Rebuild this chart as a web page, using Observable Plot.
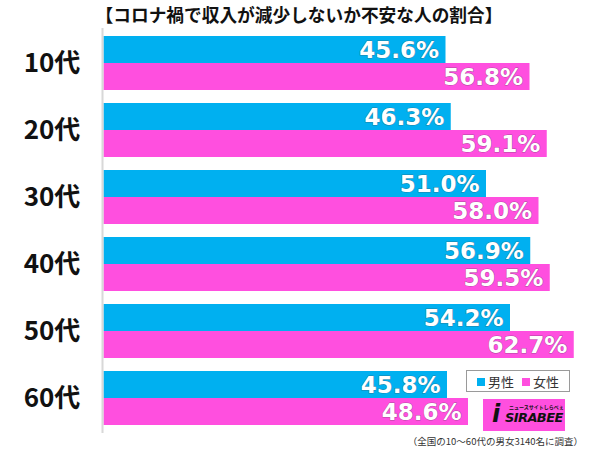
<!DOCTYPE html>
<html>
<head>
<meta charset="utf-8">
<script src="https://cdn.jsdelivr.net/npm/d3@7"></script>
<script src="https://cdn.jsdelivr.net/npm/@observablehq/plot@0.6"></script>
<style>
  html, body { margin: 0; padding: 0; background: #fff; }
  #wrap { position: relative; width: 600px; height: 449px; overflow: hidden; font-family: "Noto Sans CJK JP", sans-serif; }
  #wrap svg { position: absolute; left: 0; top: 0; }
  .title { position: absolute; left: -1px; top: 3px; width: 600px; text-align: center; font-size: 17.7px; line-height: 22px; font-weight: bold; color: #111; white-space: nowrap; }
  .legend { position: absolute; left: 466px; top: 370px; width: 102px; height: 20px; border: 1px solid #9a9a9a; background: #fff; display: flex; align-items: center; justify-content: center; gap: 8px; font-size: 13px; color: #333; white-space: nowrap; }
  .legend span.sw { display: inline-block; width: 8px; height: 8px; margin-right: 3px; vertical-align: 1px; }
  .logo { position: absolute; left: 483px; top: 399px; width: 82px; height: 32px; background: #ff4fdf; color: #111; white-space: nowrap; }
  .logo .i { position: absolute; left: 9px; top: 1px; font-family: "DejaVu Sans", sans-serif; font-size: 24px; line-height: 28px; font-weight: bold; font-style: italic; }
  .logo .small { position: absolute; left: 26px; top: 5px; font-size: 5px; line-height: 6px; font-weight: bold; }
  .logo .big { position: absolute; left: 22px; top: 11px; font-family: "DejaVu Sans", sans-serif; font-size: 13px; line-height: 16px; font-weight: bold; font-style: italic; letter-spacing: -0.6px; }
  .caption { position: absolute; right: 17px; top: 434px; font-size: 9.5px; line-height: 14px; color: #333; white-space: nowrap; }
</style>
</head>
<body>
<div id="wrap"></div>
<script>
const title = "【コロナ禍で収入が減少しないか不安な人の割合】";
const ages = ["10代", "20代", "30代", "40代", "50代", "60代"];
const series = ["男性", "女性"];
const male = [45.6, 46.3, 51.0, 56.9, 54.2, 45.8];
const female = [56.8, 59.1, 58.0, 59.5, 62.7, 48.6];
const colors = ["#00b0f0", "#ff4fdf"];
const caption = "（全国の10～60代の男女3140名に調査）";

const maleData = ages.map((age, i) => ({age, sex: series[0], value: male[i]}));
const femaleData = ages.map((age, i) => ({age, sex: series[1], value: female[i]}));
const fmt = d => d.value.toFixed(1) + "%";

const labelStyle = {
  x: "value", y: "age", text: fmt,
  textAnchor: "end", dx: -7,
  fill: "white", stroke: "#444", strokeWidth: 1, strokeOpacity: 0.45,
  fontFamily: "DejaVu Sans", fontWeight: "bold", fontSize: 23
};

const chart = Plot.plot({
  width: 600,
  height: 449,
  marginTop: 28,
  marginBottom: 16,
  marginLeft: 103.5,
  marginRight: 9,
  x: {domain: [0, 65], axis: null},
  y: {domain: ages, paddingInner: 0.2, paddingOuter: 0.1, label: null},
  color: {domain: series, range: colors},
  style: {fontFamily: "Noto Sans CJK JP", background: "white"},
  marks: [
    Plot.barX(maleData, {x: "value", y: "age", fill: "sex", insetBottom: 27}),
    Plot.barX(femaleData, {x: "value", y: "age", fill: "sex", insetTop: 27}),
    Plot.ruleX([0], {stroke: "#d8d8d8", strokeWidth: 2, dx: -1.5}),
    Plot.text(maleData, {...labelStyle, dy: -13}),
    Plot.text(femaleData, {...labelStyle, dy: 14}),
    Plot.axisY({anchor: "left", tickSize: 0, tickPadding: 52, textAnchor: "middle",
      fontSize: 26, fontWeight: "bold", fill: "#111", label: null})
  ]
});

const wrap = document.getElementById("wrap");
wrap.appendChild(chart);

const t = document.createElement("div");
t.className = "title";
t.textContent = title;
wrap.appendChild(t);

const lg = document.createElement("div");
lg.className = "legend";
series.forEach((s, i) => {
  const item = document.createElement("span");
  const sw = document.createElement("span");
  sw.className = "sw";
  sw.style.background = colors[i];
  item.appendChild(sw);
  item.appendChild(document.createTextNode(s));
  lg.appendChild(item);
});
wrap.appendChild(lg);

const logo = document.createElement("div");
logo.className = "logo";
logo.innerHTML = '<div class="i">i</div><div class="small">ニュースサイトしらべぇ</div><div class="big">SIRABEE</div>';
wrap.appendChild(logo);

const cap = document.createElement("div");
cap.className = "caption";
cap.textContent = caption;
wrap.appendChild(cap);
</script>
</body>
</html>
